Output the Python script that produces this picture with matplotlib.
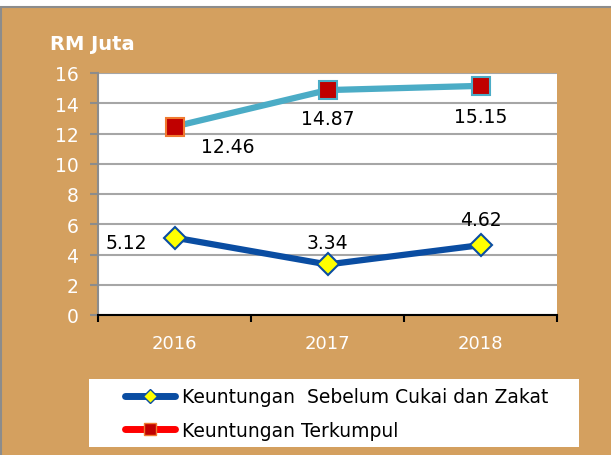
import matplotlib.pyplot as plt
from matplotlib.patches import Rectangle
from matplotlib.lines import Line2D

years = ["2016", "2017", "2018"]
sebelum_cukai = [5.12, 3.34, 4.62]
terkumpul = [12.46, 14.87, 15.15]

tan = "#D4A05F"
W, H = 611, 456

fig = plt.figure(figsize=(W / 100, H / 100), dpi=100)
fig.patch.set_facecolor("white")
# tan panel with gray border on top and left
fig.patches.append(Rectangle((1 / W, -0.05), 1.1, (H - 8) / H + 0.05, transform=fig.transFigure,
                             facecolor=tan, edgecolor="#8c8c8c", linewidth=1.5, zorder=0))

ax = fig.add_axes([98 / W, 140 / H, 459 / W, 242 / H])
ax.set_zorder(3)
ax.set_facecolor("white")
x = [1, 2, 3]

ax.plot(x, terkumpul, color="#4BACC6", linewidth=4.5, zorder=3)
ax.plot(x, sebelum_cukai, color="#0A4DA2", linewidth=4.5, zorder=3)
ax.plot(x[1:], terkumpul[1:], ls="none", marker="s", markersize=13, markerfacecolor="#C00000",
        markeredgecolor="#4BACC6", markeredgewidth=1.5, zorder=4)
ax.plot(x[:1], terkumpul[:1], ls="none", marker="s", markersize=13, markerfacecolor="#C00000",
        markeredgecolor="#F07A30", markeredgewidth=1.5, zorder=4)
ax.plot(x, sebelum_cukai, ls="none", marker="D", markersize=11, markerfacecolor="#FFFF00",
        markeredgecolor="#0A4DA2", markeredgewidth=1.5, zorder=4)

ax.set_xlim(0.5, 3.5)
ax.set_ylim(0, 16)
ax.set_yticks(range(0, 17, 2))
ax.set_xticks(x)
ax.set_xticklabels(years)
ax.set_xticks([0.5, 1.5, 2.5, 3.5], minor=True)
ax.grid(axis="y", color="#a6a6a6", linewidth=1.5)
ax.set_axisbelow(True)
for s in ["top", "right"]:
    ax.spines[s].set_visible(False)
ax.spines["left"].set_color("#8c8c8c")
ax.spines["left"].set_linewidth(1.5)
ax.spines["bottom"].set_color("black")
ax.spines["bottom"].set_linewidth(1.5)
ax.tick_params(axis="y", colors="#8c8c8c", labelcolor="white", length=6, width=1.5,
               labelsize=13.5, pad=8)
ax.tick_params(axis="x", which="major", length=0, labelcolor="white", labelsize=13, pad=14)
ax.tick_params(axis="x", which="minor", length=5, width=1.5, color="black")

# data labels
lbl = dict(fontsize=13.5, color="black")
ax.text(0.82, sebelum_cukai[0] - 0.3, f"{sebelum_cukai[0]:.2f}", ha="right", va="center", **lbl)
ax.text(2, sebelum_cukai[1] + 1.45, f"{sebelum_cukai[1]:.2f}", ha="center", va="center", **lbl)
ax.text(3, sebelum_cukai[2] + 1.7, f"{sebelum_cukai[2]:.2f}", ha="center", va="center", **lbl)
ax.text(1.17, terkumpul[0] - 1.3, f"{terkumpul[0]:.2f}", ha="left", va="center", **lbl)
ax.text(2, terkumpul[1] - 1.85, f"{terkumpul[1]:.2f}", ha="center", va="center", **lbl)
ax.text(3, terkumpul[2] - 2.0, f"{terkumpul[2]:.2f}", ha="center", va="center", **lbl)

fig.text(50 / W, 1 - 45 / H, "RM Juta", color="white", fontsize=14, fontweight="bold",
         ha="left", va="center")

# legend box
fig.patches.append(Rectangle((89 / W, 8 / H), 490 / W, 68 / H, transform=fig.transFigure,
                             facecolor="white", edgecolor="none", zorder=1))
handles = [
    Line2D([], [], color="#0A4DA2", linewidth=5, marker="D", markersize=7,
           markerfacecolor="#FFFF00", markeredgecolor="#0A4DA2", solid_capstyle="round"),
    Line2D([], [], color="#FF0000", linewidth=5, marker="s", markersize=9,
           markerfacecolor="#C00000", markeredgecolor="#F07A30", solid_capstyle="round"),
]
leg = fig.legend(handles, ["Keuntungan  Sebelum Cukai dan Zakat", "Keuntungan Terkumpul"],
                 loc="upper left", bbox_to_anchor=(117 / W, 1 - 381 / H), frameon=False,
                 fontsize=13.5, handlelength=2.7, handletextpad=0.35, labelspacing=0.75,
                 borderaxespad=0)
leg.set_zorder(4)

fig.savefig("out.png", dpi=100, facecolor=fig.get_facecolor())
